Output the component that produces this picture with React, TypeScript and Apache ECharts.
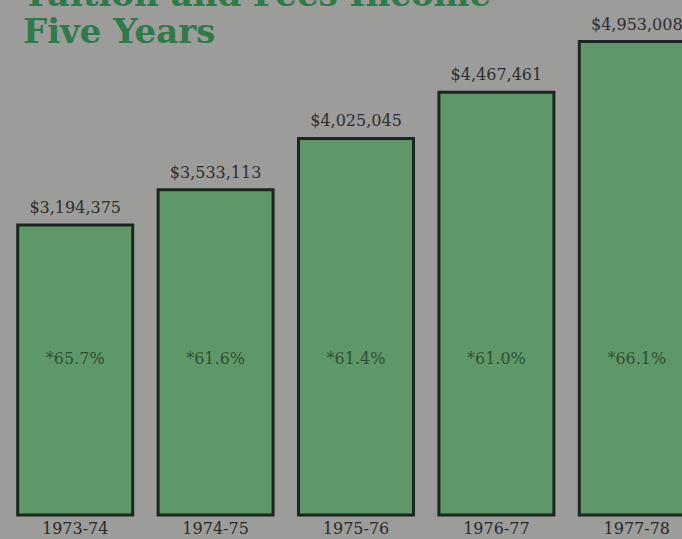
import React, { useEffect, useRef } from "react";
import * as echarts from "echarts";

const categories = ["1973-74", "1974-75", "1975-76", "1976-77", "1977-78"];
const incomeValues = [3194375, 3533113, 4025045, 4467461, 4953008];
const incomeLabels = ["$3,194,375", "$3,533,113", "$4,025,045", "$4,467,461", "$4,953,008"];
const percentLabels = ["*65.7%", "*61.6%", "*61.4%", "*61.0%", "*66.1%"];
const percentLabelLevel = [1900000, 1900000, 1900000, 1900000, 1900000];

export default function App() {
  const ref = useRef<HTMLDivElement>(null);
  useEffect(() => {
    if (!ref.current) return;
    const chart = echarts.init(ref.current, null, { renderer: "svg" });
    const serif = "'DejaVu Serif', 'Liberation Serif', serif";
    chart.setOption({
      animation: false,
      backgroundColor: "#9c9c9a",
      title: {
        text: "Tuition and Fees Income\nFive Years",
        left: 18,
        top: -30,
        textStyle: {
          fontFamily: serif,
          fontWeight: "bold",
          fontSize: 34,
          lineHeight: 37,
          color: "#2e7a48",
        },
      },
      grid: { left: 5, right: 0, top: 30, bottom: 24 },
      xAxis: {
        type: "category",
        data: categories,
        axisLine: { show: false },
        axisTick: { show: false },
        axisLabel: {
          fontFamily: serif,
          fontSize: 16,
          color: "#2a2a2a",
          margin: 5,
        },
      },
      yAxis: {
        type: "value",
        min: 400000,
        max: 5050000,
        show: false,
        splitLine: { show: false },
      },
      series: [
        {
          type: "bar",
          data: incomeValues,
          barWidth: 118,
          itemStyle: {
            color: "#5f9868",
            borderColor: "#1c2620",
            borderWidth: 3,
          },
          label: {
            show: true,
            position: "top",
            distance: 8,
            fontFamily: serif,
            fontSize: 16,
            color: "#2e2e2e",
            formatter: (p: any) => incomeLabels[p.dataIndex],
          },
        },
        {
          type: "scatter",
          data: percentLabelLevel,
          symbolSize: 0,
          silent: true,
          label: {
            show: true,
            position: "inside",
            fontFamily: serif,
            fontSize: 16,
            color: "#1f3a26",
            formatter: (p: any) => percentLabels[p.dataIndex],
          },
        },
      ],
    });
    return () => chart.dispose();
  }, []);
  return (
    <div style={{ position: "fixed", left: 0, top: 0, width: 682, height: 539, overflow: "hidden", background: "#9c9c9a" }}>
      <div ref={ref} style={{ width: 707, height: 539 }} />
    </div>
  );
}
